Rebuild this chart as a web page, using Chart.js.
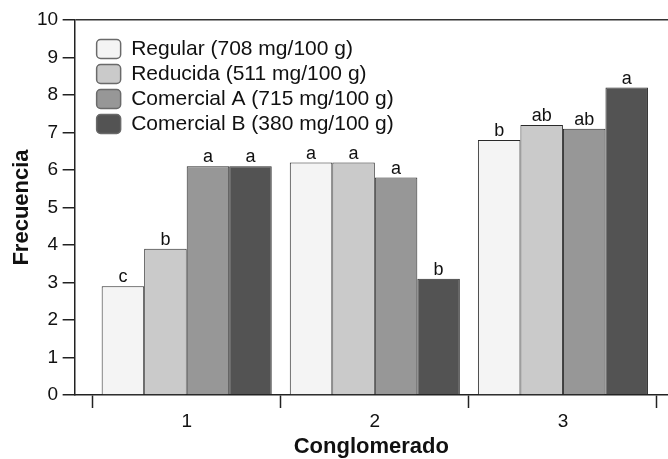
<!DOCTYPE html>
<html>
<head>
<meta charset="utf-8">
<script src="https://cdn.jsdelivr.net/npm/chart.js@4"></script>
<style>
  html, body { margin: 0; padding: 0; background: #fff; }
</style>
</head>
<body>
<canvas id="grafico" width="668" height="459"></canvas>
<script>
// datos
const categorias = [1, 2, 3];
const etiquetasX = ['1', '2', '3'];
const ticksY = [0, 1, 2, 3, 4, 5, 6, 7, 8, 9, 10];
const nombres = ['Regular (708 mg/100 g)', 'Reducida (511 mg/100 g)', 'Comercial A (715 mg/100 g)', 'Comercial B (380 mg/100 g)'];
const regular = [2.9, 6.2, 6.8];
const reducida = [3.9, 6.2, 7.2];
const comercialA = [6.1, 5.8, 7.1];
const comercialB = [6.1, 3.1, 8.2];
const letrasRegular = ['c', 'a', 'b'];
const letrasReducida = ['b', 'a', 'ab'];
const letrasComercialA = ['a', 'a', 'ab'];
const letrasComercialB = ['a', 'b', 'a'];

const fuente = "'Liberation Sans', Arial, Helvetica, sans-serif";
const colores = ['#f4f4f4', '#cacaca', '#979797', '#535353'];
const valores = [regular, reducida, comercialA, comercialB];
const letras = [letrasRegular, letrasReducida, letrasComercialA, letrasComercialB];

// letras de significancia encima de cada barra
const letrasPlugin = {
    id: 'letras',
    afterDatasetsDraw(chart) {
        const ctx = chart.ctx;
        ctx.save();
        ctx.font = '18px ' + fuente;
        ctx.fillStyle = '#111';
        ctx.textAlign = 'center';
        ctx.textBaseline = 'alphabetic';
        chart.data.datasets.forEach((ds, i) => {
            chart.getDatasetMeta(i).data.forEach((bar, j) => {
                ctx.fillText(letras[i][j], bar.x, bar.y - 4);
            });
        });
        ctx.restore();
    }
};

// mueve la leyenda dentro del area, arriba a la izquierda
const leyendaPlugin = {
    id: 'leyendaDentro',
    afterLayout(chart) {
        const l = chart.legend;
        const a = chart.chartArea;
        if (!l) return;
        l.left = a.left + 18;
        l.right = a.right;
        l.top = a.top + 14.5;
        l.bottom = a.bottom;
    }
};

const ctx = document.getElementById('grafico');

new Chart(ctx, {
    type: 'bar',
    data: {
        datasets: nombres.map((nombre, i) => ({
            label: nombre,
            data: categorias.map((c, j) => ({ x: c, y: valores[i][j] })),
            backgroundColor: colores[i],
            borderColor: '#2a2a2a',
            borderWidth: 1,
            categoryPercentage: 0.904,
            barPercentage: 1
        }))
    },
    options: {
        responsive: false,
        animation: false,
        devicePixelRatio: 1,
        layout: { padding: { left: 10.5, top: 20, right: 0, bottom: 0 } },
        plugins: {
            tooltip: { enabled: false },
            legend: {
                position: 'chartArea',
                align: 'start',
                labels: {
                    font: { size: 21, family: fuente },
                    color: '#111',
                    boxWidth: 24,
                    boxHeight: 19,
                    padding: 4,
                    useBorderRadius: true,
                    borderRadius: 4,
                    generateLabels(chart) {
                        const items = Chart.defaults.plugins.legend.labels.generateLabels(chart);
                        items.forEach(it => {
                            it.strokeStyle = '#6a6a6a';
                            it.lineWidth = 1.5;
                        });
                        return items;
                    }
                }
            }
        },
        scales: {
            x: {
                type: 'linear',
                offset: false,
                min: 0.4043,
                max: 3.5585,
                afterBuildTicks: axis => {
                    axis.ticks = categorias.map(v => ({ value: v }));
                },
                ticks: {
                    callback: (v, i) => etiquetasX[i],
                    font: { size: 19, family: fuente },
                    color: '#111',
                    padding: 2,
                    maxRotation: 0,
                    autoSkip: false
                },
                grid: {
                    offset: true,
                    drawOnChartArea: false,
                    tickLength: 13,
                    tickColor: '#222',
                    tickWidth: 1.5
                },
                border: { color: '#222', width: 1.5 },
                title: {
                    display: true,
                    text: 'Conglomerado',
                    font: { size: 22, weight: 'bold', family: fuente, lineHeight: 1.1 },
                    color: '#111',
                    padding: { top: 0, bottom: 0 }
                }
            },
            y: {
                min: 0,
                max: 10,
                afterBuildTicks: axis => {
                    axis.ticks = ticksY.map(v => ({ value: v }));
                },
                ticks: {
                    font: { size: 19, family: fuente },
                    color: '#111',
                    padding: 4.5
                },
                grid: {
                    color: c => (c.tick && c.tick.value === 10) ? '#333' : 'rgba(0,0,0,0)',
                    lineWidth: 1.5,
                    tickLength: 12,
                    tickColor: '#222',
                    tickWidth: 1.5
                },
                border: { color: '#222', width: 1.5 },
                title: {
                    display: true,
                    text: 'Frecuencia',
                    font: { size: 22, weight: 'bold', family: fuente, lineHeight: 1 },
                    color: '#111',
                    padding: { top: 0, bottom: 0 }
                }
            }
        }
    },
    plugins: [letrasPlugin, leyendaPlugin]
});
</script>
</body>
</html>
